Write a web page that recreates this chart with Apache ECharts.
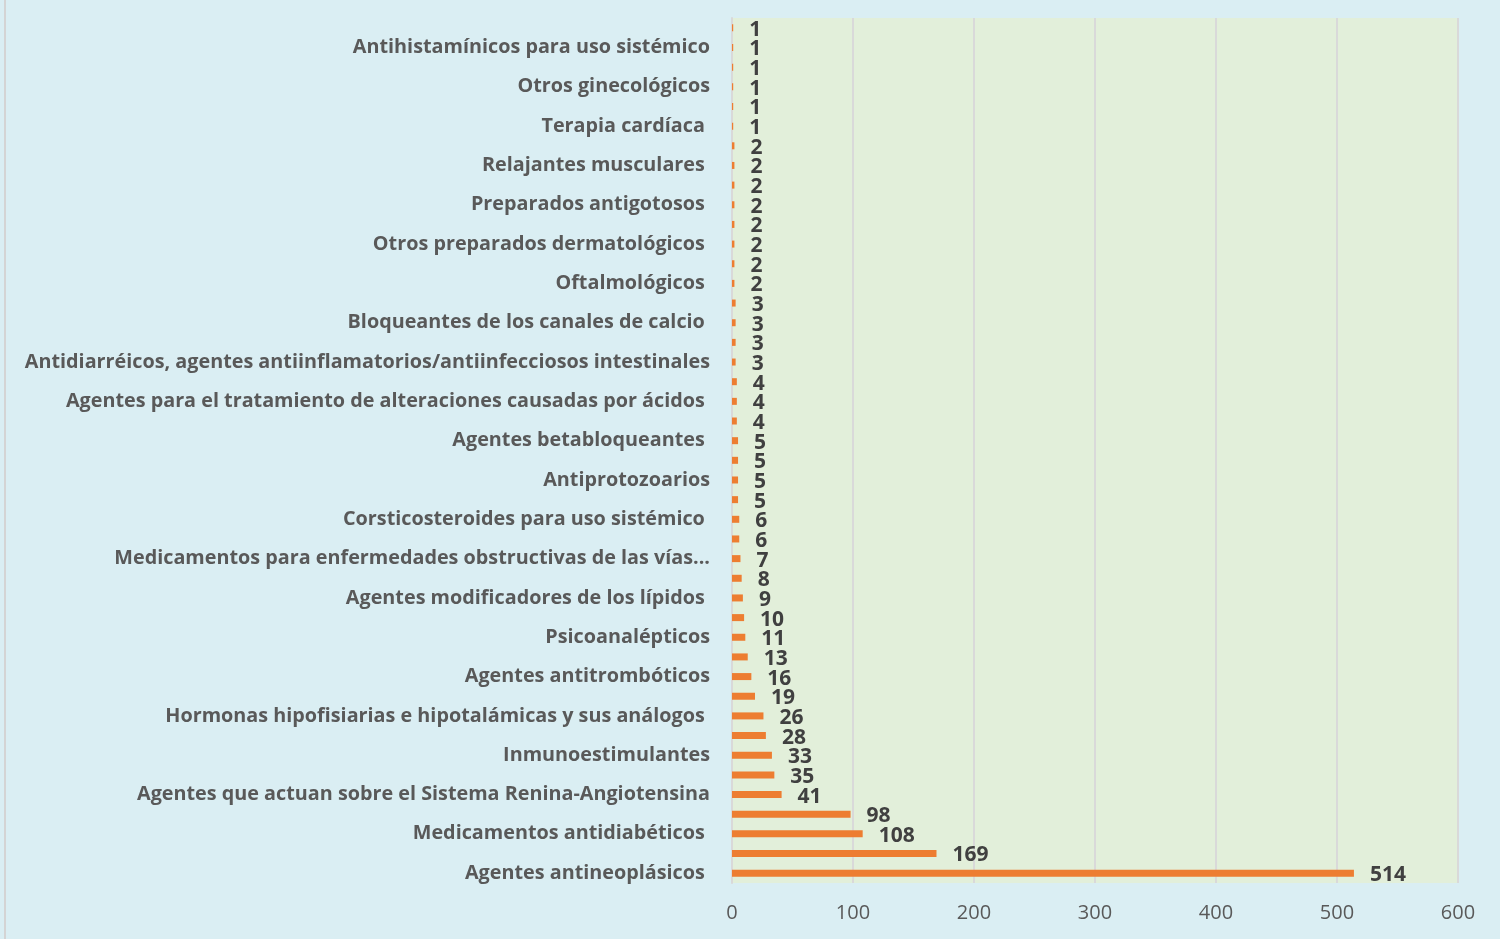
<!DOCTYPE html>
<html>
<head>
<meta charset="utf-8">
<script src="https://cdn.jsdelivr.net/npm/echarts@6/dist/echarts.min.js"></script>
<style>
  html, body { margin: 0; padding: 0; background: #DAEEF3; }
  #chart { width: 1500px; height: 939px; }
</style>
</head>
<body>
<div id="chart"></div>
<script>
// categories bottom-to-top; only every other one is labelled in the picture
var categories = [
  'Agentes antineoplásicos ', '',
  'Medicamentos antidiabéticos ', '',
  'Agentes que actuan sobre el Sistema Renina-Angiotensina', '',
  'Inmunoestimulantes', '',
  'Hormonas hipofisiarias e hipotalámicas y sus análogos ', '',
  'Agentes antitrombóticos', '',
  'Psicoanalépticos', '',
  'Agentes modificadores de los lípidos ', '',
  'Medicamentos para enfermedades obstructivas de las vías...', '',
  'Corsticosteroides para uso sistémico ', '',
  'Antiprotozoarios', '',
  'Agentes betabloqueantes ', '',
  'Agentes para el tratamiento de alteraciones causadas por ácidos ', '',
  'Antidiarréicos, agentes antiinflamatorios/antiinfecciosos intestinales', '',
  'Bloqueantes de los canales de calcio ', '',
  'Oftalmológicos ', '',
  'Otros preparados dermatológicos ', '',
  'Preparados antigotosos ', '',
  'Relajantes musculares ', '',
  'Terapia cardíaca ', '',
  'Otros ginecológicos', '',
  'Antihistamínicos para uso sistémico', ''
];
var values = [
  514, 169, 108, 98, 41, 35, 33, 28, 26, 19, 16, 13, 11, 10, 9, 8, 7,
  6, 6, 5, 5, 5, 5, 4, 4, 4, 3, 3, 3, 3,
  2, 2, 2, 2, 2, 2, 2, 2,
  1, 1, 1, 1, 1, 1
];
var xTicks = [0, 100, 200, 300, 400, 500, 600];

var chart = echarts.init(document.getElementById('chart'), null, { renderer: 'canvas' });
chart.setOption({
  animation: false,
  backgroundColor: '#DAEEF3',
  graphic: [{
    type: 'rect',
    left: 4, top: 0,
    shape: { width: 2, height: 939 },
    style: { fill: '#D4D4D4' }
  }],
  grid: {
    left: 732, right: 42, top: 18, bottom: 56,
    show: true, backgroundColor: '#E2EFDA', borderWidth: 0
  },
  xAxis: {
    type: 'value',
    min: xTicks[0], max: xTicks[xTicks.length - 1], interval: 100,
    axisLine: { show: false },
    axisTick: { show: false },
    splitLine: { lineStyle: { color: '#D9D9D9', width: 2 } },
    axisLabel: { color: '#595959', fontFamily: 'Open Sans', fontSize: 20, margin: 20 }
  },
  yAxis: {
    type: 'category',
    data: categories,
    axisLine: { show: true, lineStyle: { color: '#D9D9D9', width: 2 } },
    axisTick: { show: false },
    axisLabel: {
      interval: 0, color: '#595959', fontFamily: 'Open Sans', fontWeight: 'bold',
      fontSize: 19.8, margin: 22
    }
  },
  series: [{
    type: 'bar',
    data: values,
    barWidth: 7,
    itemStyle: { color: '#ED7D31' },
    label: {
      show: true, position: 'right', distance: 16, offset: [0, 2],
      color: '#404040', fontFamily: 'Open Sans', fontWeight: 'bold', fontSize: 21
    }
  }]
});
window.addEventListener('resize', function() { chart.resize(); });
</script>
</body>
</html>
